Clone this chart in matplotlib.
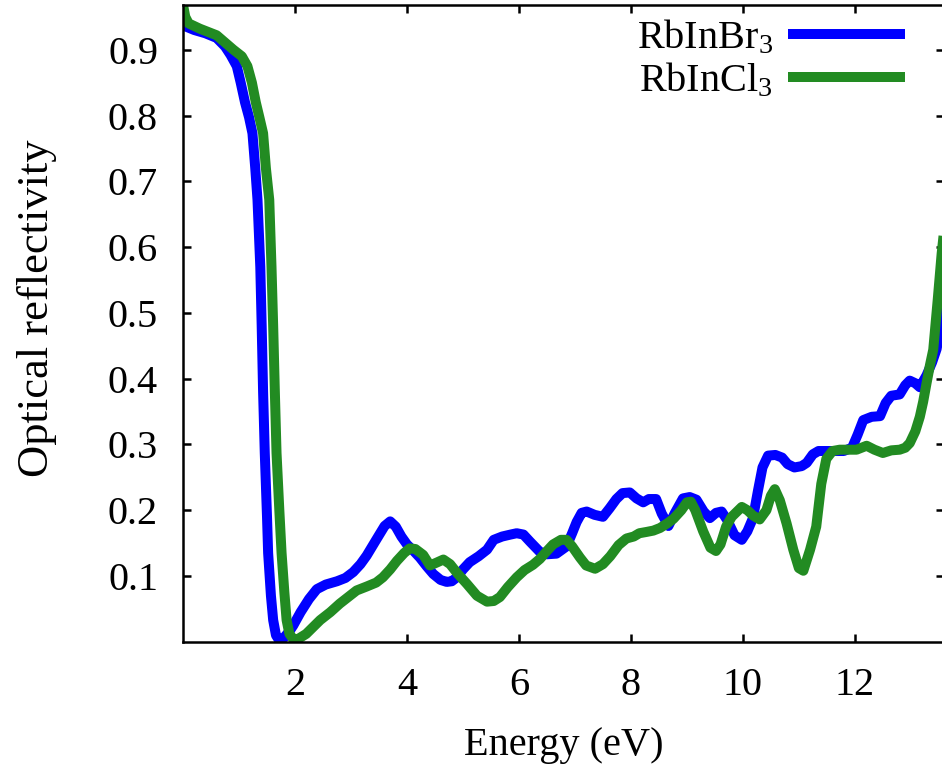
import matplotlib
matplotlib.use('Agg')
import matplotlib.pyplot as plt

plt.rcParams['font.family'] = ['Liberation Serif', 'DejaVu Serif']
plt.rcParams['mathtext.fontset'] = 'custom'
plt.rcParams['mathtext.rm'] = 'Liberation Serif'
plt.rcParams['mathtext.it'] = 'Liberation Serif:italic'

# reflectivity spectra, energy in eV
e_br = [0.0, 0.2, 0.4, 0.6, 0.75, 0.85, 0.96, 1.03, 1.107, 1.18, 1.24, 1.29, 1.33, 1.38, 1.405,
        1.43, 1.46, 1.5, 1.52, 1.57, 1.61, 1.66, 1.72, 1.8, 1.9, 1.97, 2.1, 2.25, 2.39, 2.55,
        2.75, 2.9, 3.04, 3.17, 3.28, 3.45, 3.6, 3.7, 3.8, 3.9, 4.0, 4.12, 4.23, 4.35, 4.47,
        4.6, 4.71, 4.8, 4.89, 5.0, 5.12, 5.28, 5.43, 5.55, 5.7, 5.85, 5.96, 6.08, 6.2, 6.37,
        6.5, 6.67, 6.85, 6.95, 7.03, 7.12, 7.21, 7.35, 7.5, 7.62, 7.74, 7.85, 7.98, 8.1, 8.22,
        8.32, 8.45, 8.55, 8.67, 8.78, 8.93, 9.05, 9.17, 9.3, 9.41, 9.52, 9.62, 9.72, 9.85,
        9.98, 10.08, 10.18, 10.27, 10.35, 10.45, 10.58, 10.7, 10.8, 10.92, 11.05, 11.14,
        11.25, 11.35, 11.6, 11.8, 11.95, 12.05, 12.15, 12.3, 12.45, 12.55, 12.65, 12.8,
        12.9, 12.98, 13.08, 13.16, 13.28, 13.38, 13.46, 13.55, 13.6]
r_br = [0.937, 0.930, 0.925, 0.918, 0.905, 0.892, 0.875, 0.85, 0.82, 0.797, 0.773, 0.72, 0.672,
        0.57, 0.48, 0.38, 0.287, 0.19, 0.135, 0.07, 0.033, 0.01, 0.002, 0.006, 0.016, 0.025,
        0.045, 0.065, 0.08, 0.087, 0.092, 0.097, 0.106, 0.118, 0.131, 0.155, 0.176, 0.183,
        0.175, 0.16, 0.148, 0.138, 0.128, 0.115, 0.103, 0.094, 0.091, 0.092, 0.098, 0.11,
        0.121, 0.13, 0.14, 0.155, 0.16, 0.163, 0.165, 0.163, 0.152, 0.137, 0.133, 0.134,
        0.145, 0.165, 0.182, 0.196, 0.198, 0.193, 0.19, 0.203, 0.217, 0.226, 0.227, 0.218,
        0.212, 0.217, 0.217, 0.195, 0.176, 0.195, 0.218, 0.22, 0.216, 0.198, 0.188, 0.196,
        0.198, 0.185, 0.162, 0.155, 0.168, 0.188, 0.23, 0.265, 0.283, 0.284, 0.28, 0.27,
        0.265, 0.267, 0.272, 0.285, 0.29, 0.29, 0.29, 0.295, 0.315, 0.337, 0.342, 0.343,
        0.363, 0.374, 0.376, 0.39, 0.397, 0.393, 0.387, 0.405, 0.425, 0.445, 0.49, 0.52]

e_cl = [0.0, 0.04, 0.1, 0.3, 0.6, 0.9, 1.05, 1.15, 1.23, 1.30, 1.37, 1.43, 1.48, 1.54, 1.58,
        1.61, 1.64, 1.67, 1.72, 1.76, 1.81, 1.85, 1.9, 1.97, 2.05, 2.2, 2.45, 2.63, 2.8, 2.98,
        3.1, 3.28, 3.45, 3.57, 3.7, 3.82, 3.95, 4.05, 4.15, 4.29, 4.41, 4.52, 4.65, 4.77, 4.9,
        5.07, 5.25, 5.43, 5.55, 5.66, 5.8, 5.96, 6.1, 6.25, 6.375, 6.5, 6.61, 6.75, 6.85, 6.95,
        7.09, 7.2, 7.36, 7.5, 7.63, 7.78, 7.92, 8.05, 8.15, 8.28, 8.4, 8.52, 8.65, 8.76, 8.9,
        9.0, 9.07, 9.15, 9.29, 9.42, 9.52, 9.6, 9.7, 9.8, 9.98, 10.08, 10.18, 10.3, 10.42,
        10.5, 10.57, 10.66, 10.78, 10.9, 11.0, 11.08, 11.2, 11.31, 11.4, 11.49, 11.6, 11.73,
        11.9, 12.03, 12.21, 12.35, 12.5, 12.65, 12.8, 12.9, 12.98, 13.08, 13.16, 13.22,
        13.28, 13.34, 13.4, 13.48, 13.55, 13.6]
r_cl = [0.968, 0.95, 0.94, 0.932, 0.922, 0.9, 0.89, 0.875, 0.85, 0.82, 0.795, 0.773, 0.72,
        0.672, 0.57, 0.48, 0.38, 0.287, 0.2, 0.135, 0.075, 0.033, 0.012, 0.004, 0.004, 0.012,
        0.033, 0.045, 0.058, 0.07, 0.078, 0.084, 0.09, 0.098, 0.11, 0.123, 0.135, 0.142,
        0.141, 0.132, 0.116, 0.12, 0.125, 0.118, 0.104, 0.088, 0.07, 0.061, 0.062, 0.068,
        0.083, 0.098, 0.109, 0.117, 0.126, 0.138, 0.148, 0.155, 0.155, 0.145, 0.128, 0.116,
        0.111, 0.118, 0.13, 0.147, 0.157, 0.16, 0.165, 0.167, 0.169, 0.173, 0.18, 0.187, 0.2,
        0.212, 0.213, 0.2, 0.168, 0.143, 0.138, 0.148, 0.175, 0.19, 0.205, 0.2, 0.192, 0.186,
        0.2, 0.222, 0.232, 0.215, 0.18, 0.14, 0.112, 0.108, 0.14, 0.175, 0.24, 0.278, 0.29,
        0.292, 0.292, 0.292, 0.298, 0.292, 0.287, 0.291, 0.292, 0.295, 0.302, 0.32, 0.342,
        0.365, 0.393, 0.42, 0.444, 0.52, 0.59, 0.63]

xticks = [2, 4, 6, 8, 10, 12]
yticks = [0.1, 0.2, 0.3, 0.4, 0.5, 0.6, 0.7, 0.8, 0.9]

fig = plt.figure(figsize=(9.42, 7.71), dpi=100)
ax = fig.add_axes([0.1943, 0.1676, 0.8077, 0.8259])

ax.plot(e_br, r_br, color='#0000ff', lw=7.2, label='RbInBr$_{\\mathrm{3}}$', solid_joinstyle='round')
ax.plot(e_cl, r_cl, color='#228b22', lw=7.2, label='RbInCl$_{\\mathrm{3}}$', solid_joinstyle='round')

ax.set_xlim(0, 13.59)
ax.set_ylim(0, 0.968)
ax.set_xticks(xticks)
ax.set_xticklabels([str(t) for t in xticks])
ax.set_yticks(yticks)
ax.set_yticklabels([f'{t:.1f}' for t in yticks])
ax.tick_params(direction='in', length=6, width=1.8, labelsize=29, top=True, right=True, pad=18)
for s in ax.spines.values():
    s.set_linewidth(1.8)

ax.set_xlabel('Energy (eV)', fontsize=29, labelpad=17)
ax.set_ylabel('Optical reflectivity', fontsize=32)
ax.yaxis.set_label_coords(-0.166, 0.524)

leg = ax.legend(loc='upper right', bbox_to_anchor=(0.99, 1.036), frameon=False, fontsize=29,
                markerfirst=False, handlelength=2.65, handletextpad=0.5, labelspacing=0.12)

fig.savefig('out.png', dpi=100)
